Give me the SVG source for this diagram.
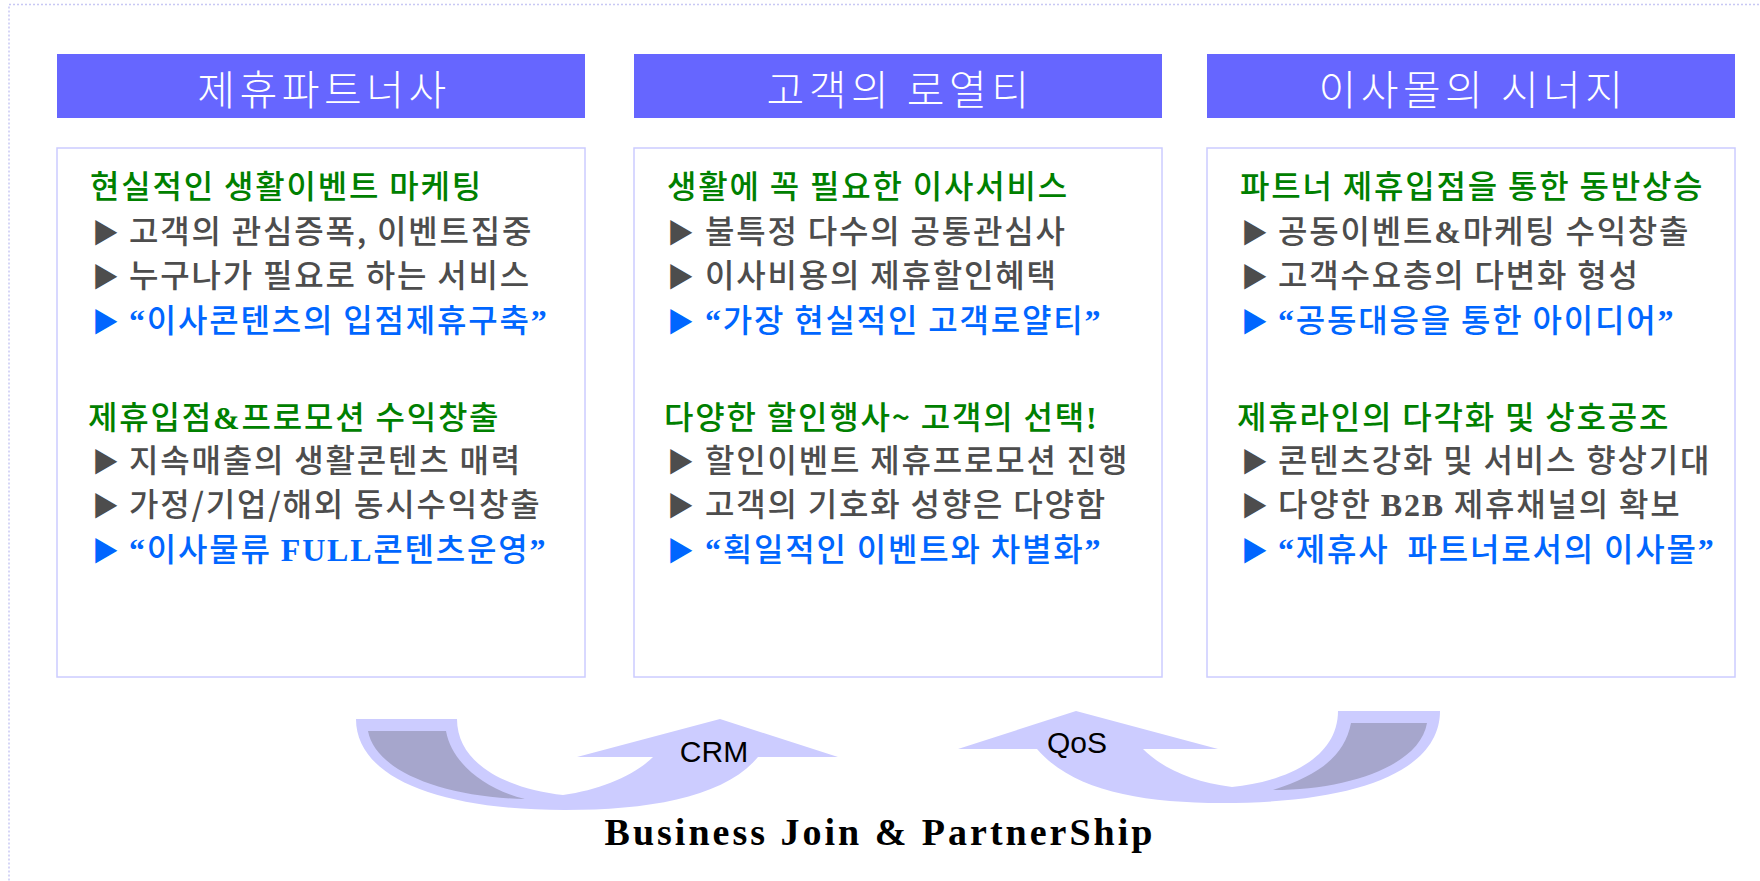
<svg xmlns="http://www.w3.org/2000/svg" width="1760" height="881" viewBox="0 0 1760 881">
<style>
.frame{fill:none;stroke:#c8c8f4;stroke-width:1.5;stroke-dasharray:2 2}
.hdr{fill:#6666ff}
.box{fill:#ffffff;stroke:#ccccff;stroke-width:1.5}
.hd{font-family:"Noto Sans CJK KR",sans-serif;font-size:41px;font-weight:300;fill:#ffffff;letter-spacing:4.5px;text-anchor:middle}
.t{font-family:"Noto Sans CJK KR",sans-serif;font-size:32px;font-weight:500;letter-spacing:1.8px}
.tri{font-size:27px;letter-spacing:0}
.g{fill:#008000}
.k{fill:#4d4d4d}
.b{fill:#0066ff}
.s{font-family:"Liberation Serif",serif;font-weight:bold}
.band{fill:#ccccff}
.dark{fill:#a6a6cc}
.lbl{font-family:"Liberation Sans",Arial,sans-serif;font-size:30px;fill:#000;text-anchor:middle}
.title{font-family:"Liberation Serif",serif;font-size:38px;font-weight:bold;fill:#000;letter-spacing:3px;text-anchor:middle}
</style>
<rect class="frame" x="9" y="4.5" width="1770" height="900"/>

<g id="col1">
<rect class="hdr" x="57" y="54" width="528" height="64"/>
<text class="hd" x="324" y="105">제휴파트너사</text>
<rect class="box" x="57" y="148" width="528" height="529"/>
<text class="t g" x="90" y="198">현실적인 생활이벤트 마케팅</text>
<text class="t k" x="92" y="243"><tspan class="tri">▶</tspan><tspan x="129">고객의 관심증폭, 이벤트집중</tspan></text>
<text class="t k" x="92" y="287"><tspan class="tri">▶</tspan><tspan x="129">누구나가 필요로 하는 서비스</tspan></text>
<text class="t b" x="92" y="332"><tspan class="tri">▶</tspan><tspan x="129" class="s">“</tspan>이사콘텐츠의 입점제휴구축<tspan class="s">”</tspan></text>
<text class="t g" x="88" y="429">제휴입점<tspan class="s">&amp;</tspan>프로모션 수익창출</text>
<text class="t k" x="92" y="472"><tspan class="tri">▶</tspan><tspan x="129">지속매출의 생활콘텐츠 매력</tspan></text>
<text class="t k" x="92" y="516"><tspan class="tri">▶</tspan><tspan x="129">가정/기업/해외 동시수익창출</tspan></text>
<text class="t b" x="92" y="561"><tspan class="tri">▶</tspan><tspan x="129" class="s">“</tspan>이사물류 <tspan class="s">FULL</tspan>콘텐츠운영<tspan class="s">”</tspan></text>
</g>

<g id="col2">
<rect class="hdr" x="634" y="54" width="528" height="64"/>
<text class="hd" x="900" y="105">고객의 로열티</text>
<rect class="box" x="634" y="148" width="528" height="529"/>
<text class="t g" x="667" y="198">생활에 꼭 필요한 이사서비스</text>
<text class="t k" x="667" y="243"><tspan class="tri">▶</tspan><tspan x="705">불특정 다수의 공통관심사</tspan></text>
<text class="t k" x="667" y="287"><tspan class="tri">▶</tspan><tspan x="705">이사비용의 제휴할인혜택</tspan></text>
<text class="t b" x="667" y="332"><tspan class="tri">▶</tspan><tspan x="705" class="s">“</tspan>가장 현실적인 고객로얄티<tspan class="s">”</tspan></text>
<text class="t g" x="664" y="429">다양한 할인행사~ 고객의 선택<tspan class="s">!</tspan></text>
<text class="t k" x="667" y="472"><tspan class="tri">▶</tspan><tspan x="705">할인이벤트 제휴프로모션 진행</tspan></text>
<text class="t k" x="667" y="516"><tspan class="tri">▶</tspan><tspan x="705">고객의 기호화 성향은 다양함</tspan></text>
<text class="t b" x="667" y="561"><tspan class="tri">▶</tspan><tspan x="705" class="s">“</tspan>획일적인 이벤트와 차별화<tspan class="s">”</tspan></text>
</g>

<g id="col3">
<rect class="hdr" x="1207" y="54" width="528" height="64"/>
<text class="hd" x="1473" y="105">이사몰의 시너지</text>
<rect class="box" x="1207" y="148" width="528" height="529"/>
<text class="t g" x="1240" y="198">파트너 제휴입점을 통한 동반상승</text>
<text class="t k" x="1241" y="243"><tspan class="tri">▶</tspan><tspan x="1278">공동이벤트</tspan><tspan class="s">&amp;</tspan>마케팅 수익창출</text>
<text class="t k" x="1241" y="287"><tspan class="tri">▶</tspan><tspan x="1278">고객수요층의 다변화 형성</tspan></text>
<text class="t b" x="1241" y="332"><tspan class="tri">▶</tspan><tspan x="1278" class="s">“</tspan>공동대응을 통한 아이디어<tspan class="s">”</tspan></text>
<text class="t g" x="1237" y="429">제휴라인의 다각화 및 상호공조</text>
<text class="t k" x="1241" y="472"><tspan class="tri">▶</tspan><tspan x="1278">콘텐츠강화 및 서비스 향상기대</tspan></text>
<text class="t k" x="1241" y="516"><tspan class="tri">▶</tspan><tspan x="1278">다양한 </tspan><tspan class="s">B2B</tspan> 제휴채널의 확보</text>
<text class="t b" x="1241" y="561"><tspan class="tri">▶</tspan><tspan x="1278" class="s">“</tspan>제휴사 &#160;파트너로서의 이사몰<tspan class="s">”</tspan></text>
</g>

<g id="connectors">
<g id="crm-arrow">
<path class="band" d="M356,719 L457,719 C457,768 515,790 563,795 C600,790 635,775 653,757 L577,757 L720,719 L838,757 L758,757 C725,797 650,810 565,810 C440,810 356,778 356,719 Z"/>
<path class="dark" d="M368,731 L446,731 C452,765 488,790 525,799 C440,797 375,770 368,731 Z"/>
<text class="lbl" x="714" y="762">CRM</text>
</g>
<g id="qos-arrow">
<path class="band" d="M1440,711 L1338,711 C1338,760 1282,782 1232,787 C1192,782 1162,768 1143,749 L1218,749 L1076,711 L958,749 L1037,749 C1072,790 1140,803 1222,803 C1360,803 1440,770 1440,711 Z"/>
<path class="dark" d="M1351,723 L1427,723 C1420,765 1350,790 1273,790 C1320,775 1345,755 1351,723 Z"/>
<text class="lbl" x="1077" y="753">QoS</text>
</g>
</g>

<text id="footer" class="title" x="880" y="845">Business Join &amp; PartnerShip</text>
</svg>
